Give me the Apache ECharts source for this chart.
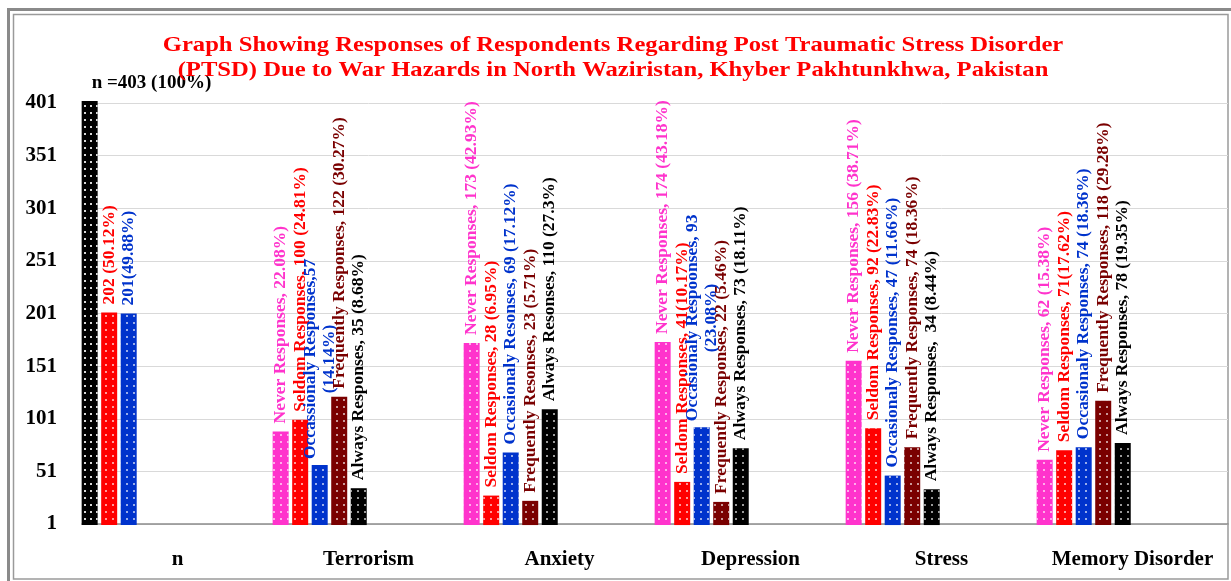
<!DOCTYPE html>
<html>
<head>
<meta charset="utf-8">
<script src="https://cdn.jsdelivr.net/npm/echarts@6/dist/echarts.min.js"></script>
<style>
html,body{margin:0;padding:0;background:#fff;}
#chart{width:1231px;height:581px;}
</style>
</head>
<body>
<div id="chart"></div>
<script>
const categories = ['n', 'Terrorism', 'Anxiety', 'Depression', 'Stress', 'Memory Disorder'];
const yTicks = [1, 51, 101, 151, 201, 251, 301, 351, 401];

// values per response series (n group: 403 total, 202, 201)
const neverVals      = [403, 89, 173, 174, 156, 62];
const seldomVals     = [202, 100, 28, 41, 92, 71];
const occasionalVals = [201, 57, 69, 93, 47, 74];
const frequentVals   = [null, 122, 23, 22, 74, 118];
const alwaysVals     = [null, 35, 110, 73, 34, 78];

const neverLabels = ['n =403 (100%)', 'Never Responses, 22.08%)', 'Never Responses, 173 (42.93%)', 'Never Responses, 174 (43.18%)', 'Never Responses, 156 (38.71%)', 'Never Responses, 62 (15.38%)'];
const seldomLabels = ['202 (50.12%)', 'Seldom Responses, 100 (24.81%)', 'Seldom Responses, 28 (6.95%)', 'Seldom Responses, 41(10.17%)', 'Seldom Responses, 92 (22.83%)', 'Seldom Responses, 71(17.62%)'];
const occasionalLabels = ['201(49.88%)', 'Occassionaly Responses,57\n(14.14%)', 'Occasionaly Resonses, 69 (17.12%)', 'Occasionaly Respoonses, 93\n(23.08%)', 'Occasionaly Responses, 47 (11.66%)', 'Occasionaly Responses, 74 (18.36%)'];
const frequentLabels = ['', 'Frequently Responses, 122 (30.27%)', 'Frequently Resonses, 23 (5.71%)', 'Frequently Responses, 22 (5.46%)', 'Frequently Responses, 74 (18.36%)', 'Frequently Responses, 118 (29.28%)'];
const alwaysLabels = ['', 'Always Responses, 35 (8.68%)', 'Always Resonses, 110 (27.3%)', 'Always Responses, 73 (18.11%)', 'Always Responses,  34 (8.44%)', 'Always Responses, 78 (19.35%)'];

const titleText = 'Graph Showing Responses of Respondents Regarding Post Traumatic Stress Disorder\n(PTSD) Due to War Hazards in North Waziristan, Khyber Pakhtunkhwa, Pakistan';

const colors = ['#FF33CC', '#FF0000', '#0033CC', '#7A0000', '#000000'];
const seriesNames = ['Never Responses', 'Seldom Responses', 'Occasionaly Responses', 'Frequently Responses', 'Always Responses'];
const allVals = [neverVals, seldomVals, occasionalVals, frequentVals, alwaysVals];
const allLabels = [neverLabels, seldomLabels, occasionalLabels, frequentLabels, alwaysLabels];

const FONT = 'Liberation Serif, Times New Roman, serif';
const decal = {symbol: 'circle', symbolSize: 1, color: 'rgba(255,255,255,0.8)', dashArrayX: [2, 4.5], dashArrayY: [2, 5]};
const decalBlack = {symbol: 'rect', symbolSize: 1, color: 'rgba(255,255,255,0.85)', dashArrayX: [1.6, 3.4], dashArrayY: [1.6, 4.4]};

const chart = echarts.init(document.getElementById('chart'));

function measure(text, size) {
  const c = document.createElement('canvas').getContext('2d');
  c.font = 'bold ' + size + 'px ' + FONT;
  return c.measureText(text).width;
}

const LABEL_SIZE = 17.5;
const series = [];
for (let s = 0; s < 5; s++) {
  const data = allVals[s].map((v, i) => {
    if (v === null) return '-';
    const txt = allLabels[s][i];
    const item = {value: v, label: {formatter: txt}};
    if (s === 0 && i === 0) {
      item.itemStyle = {color: '#000', decal: decalBlack};
      item.label = {formatter: txt, rotate: 0, align: 'left', verticalAlign: 'bottom', position: 'top', distance: 8, offset: [2, 0], color: '#000', fontSize: 19};
    } else if (txt.indexOf('\n') >= 0) {
      const first = txt.split('\n')[0];
      const w = measure(first, LABEL_SIZE);
      item.label = {formatter: txt, align: 'center', distance: 6 + w / 2, lineHeight: 19, offset: [0, 0]};
    }
    return item;
  });
  series.push({
    name: seriesNames[s],
    type: 'bar',
    data: data,
    barWidth: 16,
    barGap: '22%',
    clip: false,
    itemStyle: {color: colors[s], decal: decal},
    label: {
      show: true,
      position: 'top',
      rotate: 90,
      align: 'left',
      verticalAlign: 'middle',
      distance: 8,
      color: colors[s],
      fontFamily: FONT,
      fontWeight: 'bold',
      fontSize: LABEL_SIZE
    }
  });
}
// empty placeholder series so the five bars occupy the left part of each category
for (let k = 0; k < 5; k++) {
  series.push({name: 'pad' + k, type: 'bar', data: categories.map(() => '-'), barWidth: 16, barGap: '22%', silent: true});
}

chart.setOption({
  animation: false,
  backgroundColor: '#fff',
  grid: {left: 82, right: 3, top: 103, bottom: 57, containLabel: false},
  xAxis: {
    type: 'category',
    data: categories,
    axisTick: {show: false},
    axisLine: {lineStyle: {color: '#8c8c8c', width: 1.5}},
    axisLabel: {interval: 0, hideOverlap: false, fontFamily: FONT, fontWeight: 'bold', fontSize: 21, color: '#000', margin: 25}
  },
  yAxis: {
    type: 'value',
    min: yTicks[0],
    max: yTicks[yTicks.length - 1],
    interval: yTicks[1] - yTicks[0],
    axisLine: {show: false},
    axisTick: {show: false},
    splitLine: {lineStyle: {color: '#d9d9d9', width: 1}},
    axisLabel: {fontFamily: FONT, fontWeight: 'bold', fontSize: 21, color: '#000', margin: 25}
  },
  graphic: [
    {type: 'rect', shape: {x: 8.5, y: 9.5, width: 1225, height: 575}, style: {fill: 'none', stroke: '#8a8a8a', lineWidth: 3}, silent: true},
    {type: 'rect', shape: {x: 13.5, y: 14.5, width: 1214.5, height: 564.5}, style: {fill: 'none', stroke: '#9a9a9a', lineWidth: 1.5}, silent: true},
    {type: 'text', x: 613, y: 33, scaleX: 1.12, z: 100, silent: true,
     style: {text: titleText, fill: '#FF0000', font: 'bold 22px ' + FONT, align: 'center', verticalAlign: 'top', lineHeight: 25}}
  ],
  series: series
});
</script>
</body>
</html>
